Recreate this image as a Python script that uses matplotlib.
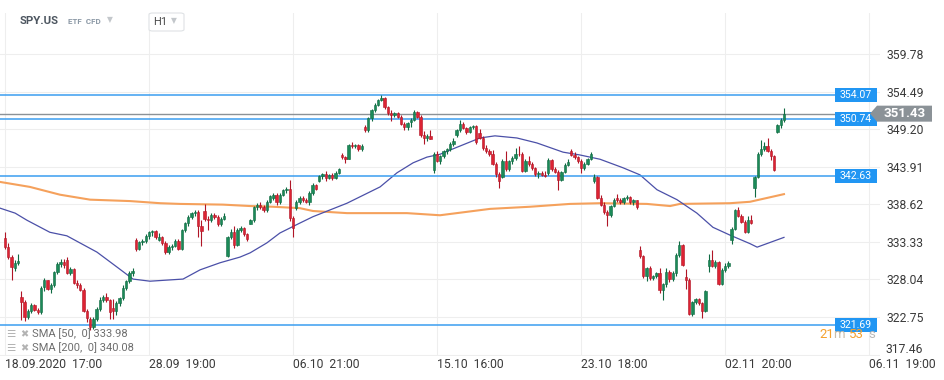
import numpy as np
import matplotlib
matplotlib.use("Agg")
import matplotlib.pyplot as plt
from matplotlib.patches import Rectangle, Polygon, FancyBboxPatch

# hourly SPY.US candles, 18.09.2020 17:00 -> 05.11.2020 17:00 (7 bars per session)
opens = [
    333.9, 332.6, 331.2, 329.6, 330.4,
    325.6, 324.9, 322.7, 323.6, 324.4, 323.8, 323.4,
    327.0, 327.9, 326.7, 327.3, 329.1, 330.2, 330.5,
    330.8, 329.0, 329.5, 327.6, 327.2, 326.6, 323.6,
    322.4, 321.3, 322.5, 323.9, 325.2, 325.6, 325.1,
    324.0, 323.6, 324.7, 325.4, 326.9, 327.8, 328.9,
    333.6, 332.4, 333.3, 333.5, 334.2, 334.7, 334.9,
    333.6, 334.1, 333.2, 331.9, 332.6, 332.8, 333.5,
    332.4, 335.0, 336.0, 336.9, 337.4, 337.6, 335.6,
    337.7, 336.6, 336.4, 337.2, 336.8, 335.9, 336.6,
    331.3, 334.0, 334.8, 332.9, 335.0, 335.3, 334.4,
    335.9, 336.4, 338.2, 338.6, 338.3, 337.8, 339.0,
    339.5, 340.0, 338.9, 340.0, 340.6, 340.8, 336.7,
    338.1, 339.0, 339.5, 339.2, 339.0, 340.3, 341.4,
    342.0, 342.6, 342.9, 342.4, 342.8, 342.4, 343.1,
    345.6, 345.3, 345.1, 347.0, 346.8, 347.0, 346.4,
    349.6, 349.1, 350.8, 351.9, 352.7, 353.4, 353.7,
    352.3, 351.5, 351.2, 351.5, 351.0, 350.0, 349.5,
    350.3, 350.6, 351.6, 351.0, 348.4, 348.0, 348.3,
    343.5, 345.8, 344.8, 345.5, 346.1, 346.4, 347.1,
    348.4, 349.1, 350.0, 349.4, 348.9, 349.5, 349.7,
    348.7, 348.0, 346.6, 346.2, 345.8, 344.4, 342.9,
    342.5, 344.8, 343.6, 344.7, 345.2, 345.8, 345.7,
    343.4, 344.8, 344.4, 343.7, 342.9, 343.1, 342.8,
    343.0, 344.9, 343.6, 343.2, 342.1, 343.2, 344.2,
    346.2, 345.6, 345.3, 344.7, 343.8, 344.4, 345.0,
    341.9, 342.5, 339.6, 338.6, 337.5, 337.2, 338.4,
    339.5, 339.3, 339.0, 339.5, 339.7, 338.9, 339.2,
    332.2, 331.3, 328.5, 329.6, 328.2, 328.5, 328.9,
    326.6, 327.4, 329.1, 328.1, 328.9, 331.5, 332.9,
    328.4, 328.0, 323.2, 324.8, 325.3, 324.7, 323.6,
    329.9, 330.8, 330.0, 330.5, 327.4, 329.4, 329.9,
    333.6, 335.2, 337.8, 337.0, 336.2, 334.8, 336.4,
    340.9, 342.5, 345.8, 346.4, 346.8, 346.2, 345.4,
    348.9, 349.8, 350.5,
]
highs = [
    334.8, 333.2, 331.5, 330.8, 331.6,
    326.4, 325.2, 323.9, 324.7, 324.6, 324.0, 327.1,
    328.3, 328.0, 327.6, 329.3, 330.5, 331.0, 330.9,
    331.2, 329.8, 329.6, 328.0, 327.5, 326.8, 323.9,
    322.7, 322.8, 324.2, 325.6, 325.8, 326.2, 325.3,
    325.3, 325.0, 325.6, 327.2, 328.0, 329.3, 329.7,
    333.9, 333.5, 333.7, 334.4, 334.9, 335.0, 335.0,
    334.6, 334.2, 333.4, 332.9, 333.0, 333.8, 333.7,
    335.2, 336.2, 337.1, 337.6, 337.9, 337.8, 336.4,
    338.7, 337.0, 337.4, 337.4, 337.1, 336.9, 337.4,
    334.2, 335.2, 335.6, 335.3, 335.6, 335.5, 334.6,
    336.6, 338.4, 338.8, 338.9, 338.5, 339.2, 340.0,
    340.2, 340.3, 340.2, 340.8, 341.1, 342.1, 337.0,
    339.2, 339.8, 339.8, 339.6, 340.5, 341.6, 341.5,
    342.8, 343.0, 343.3, 342.9, 343.0, 343.4, 343.8,
    345.9, 345.5, 347.2, 347.4, 347.2, 347.1, 347.1,
    349.9, 350.9, 352.1, 352.9, 353.5, 354.1, 353.8,
    352.5, 351.9, 351.7, 351.7, 351.3, 350.3, 350.3,
    350.8, 351.9, 351.8, 351.2, 349.0, 348.5, 349.1,
    346.0, 346.1, 345.6, 346.3, 346.6, 347.4, 348.0,
    349.3, 350.6, 350.2, 349.6, 349.7, 349.9, 349.8,
    349.3, 348.3, 347.0, 346.5, 346.3, 344.6, 343.2,
    345.0, 346.2, 344.9, 345.4, 346.6, 346.9, 346.0,
    345.1, 345.4, 344.6, 343.9, 343.4, 343.3, 343.4,
    345.2, 345.0, 343.9, 343.5, 343.4, 344.5, 345.0,
    346.4, 346.0, 345.5, 345.0, 344.6, 345.2, 346.0,
    342.9, 342.7, 339.9, 338.9, 337.8, 338.6, 339.5,
    340.1, 339.6, 339.7, 339.9, 339.8, 339.4, 339.3,
    332.7, 331.5, 329.8, 329.9, 328.7, 329.1, 329.6,
    327.6, 329.6, 329.4, 329.2, 331.8, 333.4, 333.0,
    329.5, 328.2, 325.0, 325.5, 325.4, 324.9, 326.6,
    331.6, 332.2, 330.8, 330.7, 329.6, 330.3, 330.6,
    335.4, 338.0, 338.2, 337.3, 336.4, 337.0, 337.2,
    342.7, 346.0, 347.7, 347.4, 348.0, 346.4, 345.6,
    350.0, 350.8, 352.2,
]
lows = [
    332.4, 331.0, 327.9, 329.2, 330.1,
    322.3, 322.2, 322.4, 323.3, 323.6, 323.2, 323.2,
    326.4, 326.5, 326.2, 327.0, 328.8, 329.8, 329.6,
    328.8, 328.7, 327.4, 326.9, 326.4, 323.4, 322.1,
    320.9, 321.0, 322.2, 323.6, 324.8, 324.9, 322.4,
    322.4, 323.0, 324.3, 325.2, 326.5, 327.6, 328.5,
    332.1, 332.2, 332.9, 333.2, 333.8, 334.2, 333.7,
    333.4, 332.9, 331.6, 331.7, 332.2, 332.6, 332.2,
    332.2, 334.8, 335.6, 336.6, 337.0, 334.0, 332.8,
    336.3, 335.0, 336.2, 336.6, 335.6, 335.6, 336.4,
    331.2, 333.7, 332.5, 332.7, 334.8, 334.2, 333.5,
    335.8, 336.2, 337.9, 338.0, 337.5, 337.6, 338.8,
    339.2, 338.6, 338.7, 339.8, 340.3, 336.3, 334.1,
    337.9, 338.7, 339.0, 338.8, 338.5, 340.0, 340.6,
    341.8, 342.2, 341.9, 342.2, 342.1, 342.2, 342.9,
    345.0, 344.5, 345.0, 346.6, 346.6, 346.2, 346.2,
    348.9, 348.9, 350.4, 351.6, 352.5, 353.2, 352.1,
    351.3, 350.4, 350.9, 350.8, 349.9, 349.1, 349.1,
    349.6, 350.4, 350.8, 348.2, 347.1, 347.6, 347.8,
    343.1, 344.6, 344.4, 345.2, 345.8, 346.2, 346.9,
    348.2, 348.9, 349.2, 348.6, 348.7, 349.2, 347.2,
    347.8, 346.3, 345.9, 345.5, 344.2, 342.5, 341.0,
    342.3, 343.3, 343.4, 344.4, 344.9, 345.4, 343.2,
    343.2, 344.1, 343.5, 342.6, 342.4, 342.6, 342.5,
    342.8, 343.4, 343.0, 340.7, 341.9, 343.0, 344.0,
    345.4, 345.0, 344.5, 343.1, 343.5, 344.2, 344.9,
    341.7, 339.4, 338.4, 337.3, 335.6, 336.9, 338.2,
    339.0, 338.7, 338.7, 339.2, 338.7, 338.6, 338.0,
    331.1, 328.3, 327.8, 328.0, 327.9, 328.3, 326.1,
    325.1, 327.0, 327.7, 327.8, 328.6, 331.2, 329.9,
    326.7, 323.0, 322.9, 324.6, 324.5, 322.6, 323.4,
    329.1, 329.8, 329.6, 327.2, 327.3, 329.1, 329.7,
    333.1, 335.0, 336.8, 336.0, 334.6, 334.6, 335.8,
    339.7, 342.3, 345.5, 346.2, 346.0, 344.9, 343.3,
    348.7, 349.4, 350.3,
]
closes = [
    332.6, 331.2, 329.8, 330.4, 330.7,
    324.9, 322.7, 323.6, 324.4, 323.8, 323.4, 326.9,
    327.9, 326.7, 327.3, 329.1, 330.2, 330.5, 330.1,
    329.0, 329.5, 327.6, 327.2, 326.6, 323.6, 322.6,
    321.3, 322.5, 323.9, 325.2, 325.6, 325.1, 323.4,
    323.6, 324.7, 325.4, 326.9, 327.8, 328.9, 329.3,
    332.4, 333.3, 333.5, 334.2, 334.7, 334.9, 334.1,
    334.1, 333.2, 331.9, 332.6, 332.8, 333.5, 332.4,
    335.0, 336.0, 336.9, 337.4, 337.6, 335.6, 334.9,
    336.6, 336.4, 337.2, 336.8, 335.9, 336.6, 337.0,
    334.0, 334.8, 332.9, 335.0, 335.3, 334.4, 333.8,
    336.4, 338.2, 338.6, 338.3, 337.8, 339.0, 339.8,
    340.0, 338.9, 340.0, 340.6, 340.8, 336.7, 335.3,
    339.0, 339.5, 339.2, 339.0, 340.3, 341.4, 340.8,
    342.6, 342.9, 342.4, 342.8, 342.4, 343.1, 343.6,
    345.3, 345.1, 347.0, 346.8, 347.0, 346.4, 346.9,
    349.1, 350.8, 351.9, 352.7, 353.4, 353.7, 352.3,
    351.5, 351.2, 351.5, 351.0, 350.0, 349.5, 350.1,
    350.6, 351.6, 351.0, 348.4, 348.0, 348.3, 347.9,
    345.8, 344.8, 345.5, 346.1, 346.4, 347.1, 347.6,
    349.1, 350.0, 349.4, 348.9, 349.5, 349.7, 347.4,
    348.0, 346.6, 346.2, 345.8, 344.4, 342.9, 342.0,
    344.8, 343.6, 344.7, 345.2, 345.8, 345.7, 343.4,
    344.8, 344.4, 343.7, 342.9, 343.1, 342.8, 342.7,
    344.9, 343.6, 343.2, 342.1, 343.2, 344.2, 344.6,
    345.6, 345.3, 344.7, 343.8, 344.4, 345.0, 345.8,
    342.5, 339.6, 338.6, 337.5, 337.2, 338.4, 339.3,
    339.3, 339.0, 339.5, 339.7, 338.9, 339.2, 338.2,
    331.3, 328.5, 329.6, 328.2, 328.5, 328.9, 326.6,
    327.4, 329.1, 328.1, 328.9, 331.5, 332.9, 330.1,
    328.0, 323.2, 324.8, 325.3, 324.7, 323.6, 326.4,
    330.8, 330.0, 330.5, 327.4, 329.4, 329.9, 330.3,
    335.2, 337.8, 337.0, 336.2, 334.8, 336.4, 336.0,
    342.5, 345.8, 346.4, 346.8, 346.2, 345.4, 343.5,
    349.8, 350.5, 351.43,
]

# moving averages (bar index, price)
sma50_bar = [-1.5, 3.1, 6.7, 13.7, 18.9, 28.1, 34.2, 39.1, 44.3, 54.4, 59.6, 65.7, 71.8,
             74.9, 80.0, 84.0, 90.1, 94.1, 104.5, 114.6, 119.8, 124.7, 128.9, 132.9,
             136.0, 145.1, 149.7, 156.4, 162.5, 170.5, 175.7, 181.8, 188.8, 194.0,
             199.2, 205.3, 211.4, 216.3, 221.5, 227.6, 229.8, 238.0]
sma50_val = [338.1, 337.4, 336.4, 334.7, 334.2, 331.9, 329.8, 328.1, 327.8, 328.1, 329.4,
             330.4, 331.2, 331.8, 333.2, 334.6, 336.0, 336.9, 338.8, 341.1, 343.1, 344.5,
             345.3, 345.7, 346.3, 348.0, 348.3, 348.0, 347.3, 346.0, 345.6, 345.0, 343.8,
             342.8, 340.7, 339.3, 337.4, 335.4, 334.3, 333.1, 332.6, 333.98]
sma200_bar = [-1.5, 7.6, 16.8, 26.0, 38.2, 47.4, 53.5, 66.6, 74.9, 81.9, 90.1, 94.1, 104.5,
              122.8, 132.9, 148.2, 160.4, 172.6, 181.8, 196.1, 203.2, 206.2, 221.5,
              227.6, 238.0]
sma200_val = [341.8, 341.1, 340.0, 339.3, 339.1, 338.8, 338.7, 338.6, 338.4, 338.3, 338.1,
              337.7, 337.4, 337.4, 337.1, 338.0, 338.3, 338.7, 338.8, 338.7, 338.4, 338.7,
              338.8, 339.0, 340.08]

level_lines = [354.07, 350.74, 342.63, 321.69]
last_price = 351.43

ytick_vals = [317.46, 322.75, 328.04, 333.33, 338.62, 343.91, 349.20, 354.49, 359.78]
xtick_bars = [0, 44, 88, 132, 176, 220, 264]
xtick_labels = ["18.09.2020  17:00", "28.09  19:00", "06.10  21:00", "15.10  16:00",
                "23.10  18:00", "02.11  20:00", "06.11  19:00"]

# pixel geometry of the reference
W, H = 945, 380
BAR_PX, X0_PX = 3.273, 5.0
PPU, YREF_PX, YREF = 7.09, 317.0, 322.75


def bx(px):
    return (px - X0_PX) / BAR_PX


def py(ypx):
    return YREF + (YREF_PX - ypx) / PPU


plt.rcParams["font.family"] = ["Roboto", "DejaVu Sans"]

fig = plt.figure(figsize=(W / 100, H / 100), dpi=100)
fig.patch.set_facecolor("white")
ax = fig.add_axes([0, 1 - 356 / H, 880 / W, (356 - 13) / H])
ax.set_xlim(bx(0), bx(880))
ax.set_ylim(py(356), py(13))
for s in ax.spines.values():
    s.set_visible(False)

ax.set_yticks(ytick_vals)
# the lowest label sits a little above its gridline, as in the reference
ax.set_yticklabels([""] + [f"{v:.2f}" for v in ytick_vals[1:]])
ax.yaxis.tick_right()
ax.tick_params(axis="y", length=0, pad=5, labelsize=8.7, labelcolor="#3a3a3a")
ax.text(bx(886), py(350), f"{ytick_vals[0]:.2f}", fontsize=8.7, color="#3a3a3a",
        ha="left", va="center", clip_on=False)
ax.set_xticks(xtick_bars)
ax.set_xticklabels(xtick_labels, ha="left")
ax.tick_params(axis="x", length=0, pad=1.5, labelsize=8.7, labelcolor="#3a3a3a")
ax.grid(color="#eeeeee", lw=0.8, zorder=0)
ax.set_axisbelow(True)

o = np.array(opens)
h = np.array(highs)
l = np.array(lows)
c = np.array(closes)
assert len(o) == len(h) == len(l) == len(c)
idx = np.arange(len(c))
up = c >= o

ax.plot(sma200_bar, sma200_val, color="#f5a15c", lw=1.5, zorder=2)
ax.plot(sma50_bar, sma50_val, color="#4b50a8", lw=0.9, zorder=2)

# horizontal levels
xend = bx(835)
for v in level_lines:
    ax.plot([bx(0), xend], [v, v], color="#3b9ef0", lw=1.1, zorder=3)
ax.plot([bx(0), bx(870)], [last_price, last_price], color="#8b9297", lw=1.0, zorder=3)

# candles
fill = np.where(up, "#1b8a58", "#dd2333")
edge = np.where(up, "#0f6a42", "#b01526")
ax.vlines(idx, l, h, colors=edge, lw=0.8, zorder=4)
ax.bar(idx, np.maximum(np.abs(c - o), 0.08), bottom=np.minimum(o, c), width=0.72,
       color=fill, edgecolor=edge, lw=0.4, zorder=5)

# price tags
half = 7 / PPU
for v in level_lines:
    ax.add_patch(Rectangle((bx(835), v - half), bx(877) - bx(835), 2 * half,
                           facecolor="#2196f3", edgecolor="none", zorder=6, clip_on=False))
    ax.text((bx(835) + bx(877)) / 2, v, f"{v:.2f}", color="white", fontsize=7.6,
            ha="center", va="center", zorder=7, clip_on=False)

th = 8 / PPU
tag = Polygon([(bx(870), last_price), (bx(877), last_price + th), (bx(932), last_price + th),
               (bx(932), last_price - th), (bx(877), last_price - th)],
              closed=True, facecolor="#8b9297", edgecolor="none", zorder=6, clip_on=False)
ax.add_patch(tag)
ax.text((bx(877) + bx(932)) / 2, last_price, f"{last_price:.2f}", color="white",
        fontsize=9.6, fontweight="bold", ha="center", va="center", zorder=7, clip_on=False)

# candle countdown
yc = py(335)
for txt, px, col in [("21", 819, "#f5a02c"), ("m", 833, "#c9bca8"),
                     ("53", 849, "#f5a02c"), ("s", 868, "#b8b8b8")]:
    ax.text(bx(px), yc, txt, color=col, fontsize=9.5, ha="left", va="center",
            zorder=7, clip_on=False)

# header
fig.text(20 / W, 1 - 21 / H, "SPY.US", fontsize=8.2, fontweight="bold", color="#4d5660",
         va="center")
fig.text(68 / W, 1 - 21 / H, "ETF  CFD", fontsize=5.8, fontweight="bold", color="#8c99a6",
         va="center")
fig.text(107 / W, 1 - 20 / H, "\u25bc", fontsize=5.5, color="#c3c7cb", va="center")
fig.patches.append(FancyBboxPatch((149 / W, 1 - 31 / H), 35 / W, 18 / H,
                                  boxstyle="round,pad=0,rounding_size=0.004",
                                  transform=fig.transFigure, facecolor="white",
                                  edgecolor="#dfe2e5", lw=0.8, zorder=5))
fig.text(153 / W, 1 - 22 / H, "H1", fontsize=8, color="#4a4a4a", va="center", zorder=6)
fig.text(171 / W, 1 - 21 / H, "\u25bc", fontsize=5.5, color="#c3c7cb", va="center", zorder=6)

# indicator legend
for ypx, txt in [(334, "SMA [50,  0] 333.98"), (348, "SMA [200,  0] 340.08")]:
    fig.text(6 / W, 1 - ypx / H, "\u2630", fontsize=7.5, color="#b3b3b3", va="center",
             family="DejaVu Sans")
    fig.text(20 / W, 1 - ypx / H, "\u2716", fontsize=7, color="#b3b3b3", va="center",
             family="DejaVu Sans")
    fig.text(32 / W, 1 - ypx / H, txt, fontsize=8, color="#6e6e6e", va="center")

fig.savefig("out.png", dpi=100, facecolor="white")
